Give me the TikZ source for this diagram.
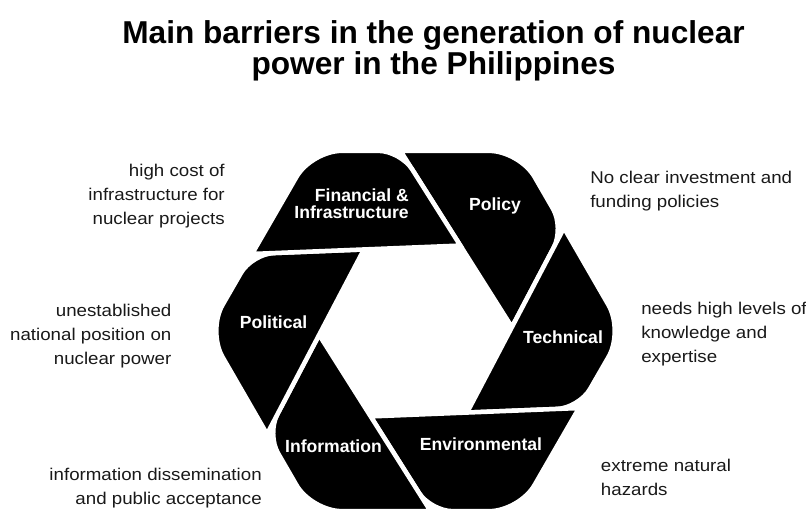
\documentclass[tikz,border=0pt]{standalone}
\usepackage{fontspec}
\setmainfont{Liberation Sans}
\newfontfamily\notefont[FakeStretch=1.1]{Liberation Sans}
\usepackage{tikz}
\def\cornerbig{0.75cm}
\def\cornersmall{0.55cm}

\begin{document}
\begin{tikzpicture}[x=0.025cm, y=-0.025cm]
    \tikzstyle{segment}=[fill=black, draw=white, line width=3.2pt]
    \tikzstyle{segment text}=[text=white, inner sep=0pt, font=\bfseries\fontsize{12.5}{11.9}\selectfont]
    \tikzstyle{note}=[text=black!90, inner sep=0pt, font=\notefont\fontsize{12.1}{17.1}\selectfont]
    \tikzstyle{headline}=[align=center, inner sep=0pt, font=\bfseries\fontsize{22.5}{22}\selectfont]

    \useasboundingbox (0,0) rectangle (806,510);

    % Title
    \node[headline] (title) at (433.5,51) {Main barriers in the generation of nuclear\\power in the Philippines};

    % Draw the six segments of the hexagon
    \begin{scope}[shift={(415.5,331)}, yscale=-1]
    \foreach \angle in {0,60,...,300}
        \path[segment, rotate=\angle] (-15,180.1)
            [rounded corners=\cornerbig] -- (104,180.1)
            [rounded corners=\cornersmall] -- (148.5,103.1)
            [sharp corners] -- (96.4,3.9) -- cycle;
    \end{scope}

    % Segment names
    \node[segment text, anchor=east, align=right] (fin) at (409,203.5) {Financial \&\\Infrastructure};
    \node[segment text] (pol) at (495,206) {Policy};
    \node[segment text] (polit) at (273.5,322.7) {Political};
    \node[segment text] (tech) at (563,337) {Technical};
    \node[segment text] (info) at (333.5,446.7) {Information};
    \node[segment text] (env) at (481,444) {Environmental};

    % Notes around the hexagon
    \node[note, anchor=east, align=right] (cost) at (225,196) {high cost of\\infrastructure for\\nuclear projects};
    \node[note, anchor=east, align=right] (stance) at (171.7,336) {unestablished\\national position on\\nuclear power};
    \node[note, anchor=east, align=right] (outreach) at (262,488) {information dissemination\\and public acceptance};
    \node[note, anchor=west, align=left] (funding) at (590,191.3) {No clear investment and\\funding policies};
    \node[note, anchor=west, align=left] (skills) at (641,334) {needs high levels of\\knowledge and\\expertise};
    \node[note, anchor=west, align=left] (hazards) at (600.7,477) {extreme natural\\hazards};
\end{tikzpicture}
\end{document}
